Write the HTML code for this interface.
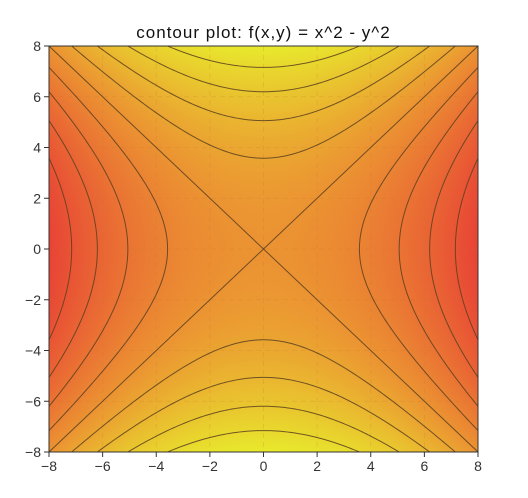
<!DOCTYPE html>
<html><head><meta charset="utf-8"><style>
body{margin:0;background:#fff;width:528px;height:498px;overflow:hidden;font-family:"Liberation Sans",sans-serif}
#wrap{position:relative;width:528px;height:498px}
canvas,svg{position:absolute;left:0;top:0}
</style></head><body>
<div id="wrap">
<canvas id="cv" width="528" height="498"></canvas>
<svg id="sv" width="528" height="498"></svg>
</div>
<script>
const levels=[-51.2,-38.4,-25.6,-12.8,0,12.8,25.6,38.4,51.2];
const xTicks=[-8,-6,-4,-2,0,2,4,6,8];
const yTicks=[-8,-6,-4,-2,0,2,4,6,8];
const titleText="contour plot: f(x,y) = x^2 - y^2";
const L=49,R=478,T=46,B=452;
const sx=v=>L+(v+8)/16*(R-L), sy=v=>B-(v+8)/16*(B-T);
const f=(x,y)=>x*x-y*y;
const stops=[[0,[232,234,44]],[0.5,[235,147,50]],[1,[232,68,53]]];
function col(v){let t=(v+64)/128;t=Math.max(0,Math.min(1,t));
 let a=stops[0],b=stops[1];if(t>0.5){a=stops[1];b=stops[2];}
 const u=(t-a[0])/(b[0]-a[0]);return a[1].map((c,i)=>Math.round(c+(b[1][i]-c)*u));}
const ctx=document.getElementById('cv').getContext('2d');
const img=ctx.createImageData(R-L,B-T);
for(let j=0;j<B-T;j++)for(let i=0;i<R-L;i++){
 const x=-8+(i+0.5)/(R-L)*16,y=8-(j+0.5)/(B-T)*16;const c=col(f(x,y));const k=(j*(R-L)+i)*4;
 img.data[k]=c[0];img.data[k+1]=c[1];img.data[k+2]=c[2];img.data[k+3]=255;}
ctx.putImageData(img,L,T);
const svg=document.getElementById('sv');const NS="http://www.w3.org/2000/svg";
function mk(tag,attrs,parent){const e=document.createElementNS(NS,tag);for(const k in attrs)e.setAttribute(k,attrs[k]);(parent||svg).appendChild(e);return e;}
xTicks.forEach(v=>{const g=mk('line',{x1:sx(v),x2:sx(v),y1:T,y2:B,stroke:'#c8762a','stroke-width':0.8,'stroke-dasharray':'5,4',opacity:0.25});
});
yTicks.forEach(v=>{const g=mk('line',{x1:L,x2:R,y1:sy(v),y2:sy(v),stroke:'#c8762a','stroke-width':0.8,'stroke-dasharray':'5,4',opacity:0.25});
});
const clip=mk('clipPath',{id:'cp'});mk('rect',{x:L,y:T,width:R-L,height:B-T},clip);
levels.forEach(c=>{
 const segs=[];
 if(c>0){[1,-1].forEach(s=>{let p=[];for(let k=0;k<=200;k++){const y=-8+k*16/200;p.push([s*Math.sqrt(c+y*y),y]);}segs.push(p);});}
 else if(c<0){[1,-1].forEach(s=>{let p=[];for(let k=0;k<=200;k++){const x=-8+k*16/200;p.push([x,s*Math.sqrt(-c+x*x)]);}segs.push(p);});}
 else{segs.push([[-8,-8],[8,8]]);segs.push([[-8,8],[8,-8]]);}
 segs.forEach(p=>{const d=p.map((q,i)=>(i?'L':'M')+sx(q[0]).toFixed(2)+','+sy(q[1]).toFixed(2)).join('');
  const e=mk('path',{d:d,fill:'none',stroke:'#5a4020','stroke-width':1,'clip-path':'url(#cp)',opacity:0.85});
  });
});
const fr=mk('rect',{x:L,y:T,width:R-L,height:B-T,fill:'none',stroke:'#333','stroke-width':1});

xTicks.forEach(v=>{mk('line',{x1:sx(v),x2:sx(v),y1:B,y2:B+5,stroke:'#333'});
 const t=mk('text',{x:sx(v),y:B+19,'text-anchor':'middle','font-size':14,fill:'#333'});t.textContent=v<0?'\u2212'+(-v):v;
 });
yTicks.forEach(v=>{mk('line',{x1:L-5,x2:L,y1:sy(v),y2:sy(v),stroke:'#333'});
 const t=mk('text',{x:L-8,y:sy(v)+5,'text-anchor':'end','font-size':14,fill:'#333'});t.textContent=v<0?'\u2212'+(-v):v;
 });
const tt=mk('text',{x:(L+R)/2,y:38,'text-anchor':'middle','font-size':17,fill:'#111','letter-spacing':1});tt.textContent=titleText;

</script>
</body></html>
